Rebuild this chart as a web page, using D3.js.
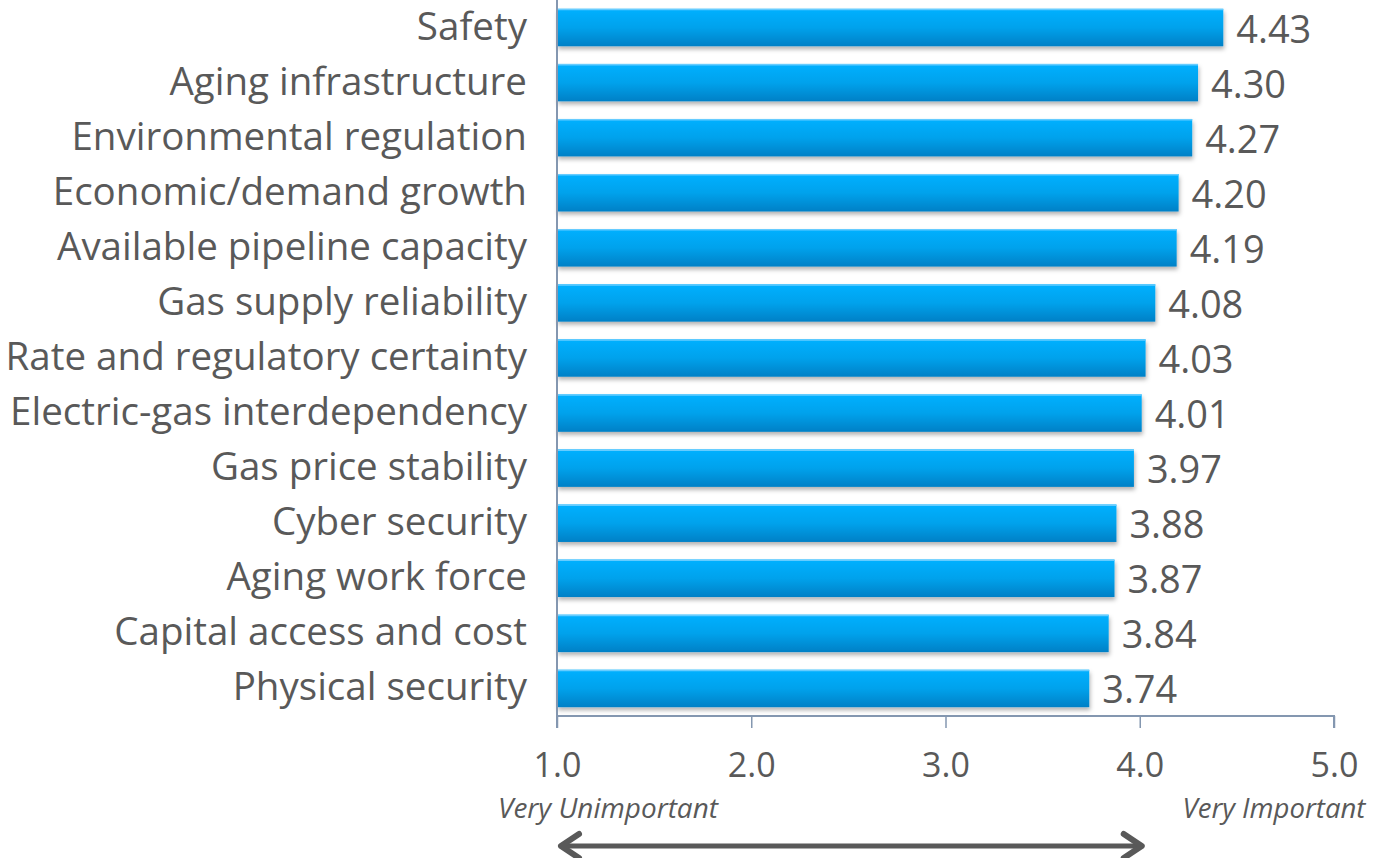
<!DOCTYPE html>
<html><head><meta charset="utf-8">
<script src="https://cdn.jsdelivr.net/npm/d3@7"></script>
<style>body{margin:0;background:#fff}svg{display:block}</style>
</head><body>
<svg id="c" width="1374" height="858"></svg>
<script>
const categories = ["Safety","Aging infrastructure","Environmental regulation","Economic/demand growth","Available pipeline capacity","Gas supply reliability","Rate and regulatory certainty","Electric-gas interdependency","Gas price stability","Cyber security","Aging work force","Capital access and cost","Physical security"];
const values = [4.43,4.30,4.27,4.20,4.19,4.08,4.03,4.01,3.97,3.88,3.87,3.84,3.74];
const tickValues = [1,2,3,4,5];
const scaleEnds = ["Very Unimportant","Very Important"];

const svg = d3.select("#c");
const font = "'Open Sans', sans-serif";
const txt = "#595959";
const x = d3.scaleLinear().domain([1,5]).range([557,1334]);
const y = d3.scaleBand().domain(categories).range([0,716]).paddingInner(0.32).paddingOuter(0.16);

function fit(sel, target){
  const w = sel.node().getComputedTextLength();
  const fs = parseFloat(sel.attr("font-size"));
  return fs*target/w;
}

const defs = svg.append("defs");
const g = defs.append("linearGradient").attr("id","bg").attr("x1",0).attr("x2",0).attr("y1",0).attr("y2",1);
g.append("stop").attr("offset","0").attr("stop-color","#00b0ff");
g.append("stop").attr("offset","0.5").attr("stop-color","#00a2ec");
g.append("stop").attr("offset","1").attr("stop-color","#0080c6");
const f = defs.append("filter").attr("id","sh").attr("x","-5%").attr("y","-20%").attr("width","110%").attr("height","160%");
f.append("feDropShadow").attr("dx",1).attr("dy",3).attr("stdDeviation",2).attr("flood-color","#000").attr("flood-opacity",0.3);

svg.append("g").selectAll("rect").data(values).join("rect")
  .attr("x", x(1)).attr("y",(d,i)=>y(categories[i]))
  .attr("width", d=>x(d)-x(1)).attr("height", y.bandwidth())
  .attr("fill","url(#bg)").attr("filter","url(#sh)");
svg.append("g").selectAll("line").data(values).join("line")
  .attr("x1",x(1)).attr("x2",d=>x(d))
  .attr("y1",(d,i)=>y(categories[i])+0.75).attr("y2",(d,i)=>y(categories[i])+0.75)
  .attr("stroke","#66ccff").attr("stroke-width",1.5);

const vl = svg.append("g").selectAll("text").data(values).join("text")
  .attr("x", d=>x(d)+13).attr("y",(d,i)=>y(categories[i])+y.bandwidth()/2+15)
  .attr("font-family",font).attr("font-size",38).attr("fill",txt)
  .text(d=>d.toFixed(2));
vl.attr("font-size", fit(d3.select(vl.nodes()[0]), 75));

const cl = svg.append("g").selectAll("text").data(categories).join("text")
  .attr("x",527).attr("y",d=>y(d)+y.bandwidth()/2+12)
  .attr("text-anchor","end").attr("font-family",font).attr("font-size",32).attr("fill",txt)
  .text(d=>d);
cl.attr("font-size", fit(d3.select(cl.nodes()[7]), 517));

const axisCol = "#8497b0";
svg.append("line").attr("x1",x(1)).attr("x2",x(1)).attr("y1",0).attr("y2",716).attr("stroke",axisCol).attr("stroke-width",2);
const xa = svg.append("g").attr("transform","translate(0,716)")
  .call(d3.axisBottom(x).tickValues(tickValues).tickSize(12).tickFormat(d3.format(".1f")));
xa.select(".domain").attr("stroke",axisCol).attr("stroke-width",2).attr("d",`M${x(1)},12V0H${x(5)}V12`);
xa.selectAll(".tick line").attr("stroke",axisCol).attr("stroke-width",1.5);
xa.selectAll(".tick text").attr("font-family",font).attr("font-size",34).attr("fill",txt).attr("y",37).attr("dy","0.71em");

const e1 = svg.append("text").attr("x",608).attr("y",818).attr("text-anchor","middle")
  .attr("font-family",font).attr("font-style","italic").attr("font-size",24).attr("fill",txt).text(scaleEnds[0]);
e1.attr("font-size", fit(e1, 220));
const e2 = svg.append("text").attr("x",1274).attr("y",818).attr("text-anchor","middle")
  .attr("font-family",font).attr("font-style","italic").attr("font-size",24).attr("fill",txt).text(scaleEnds[1]);
e2.attr("font-size", fit(e2, 183));

const ay = 846, ax1 = x(1)+2, ax2 = x(4)+4;
svg.append("line").attr("x1",ax1+4).attr("x2",ax2-4).attr("y1",ay).attr("y2",ay).attr("stroke",txt).attr("stroke-width",5);
svg.append("path").attr("d",`M${ax1+20},${ay-12}L${ax1+2},${ay}L${ax1+20},${ay+12}`).attr("fill","none").attr("stroke",txt).attr("stroke-width",6).attr("stroke-linejoin","round").attr("stroke-linecap","round");
svg.append("path").attr("d",`M${ax2-20},${ay-12}L${ax2-2},${ay}L${ax2-20},${ay+12}`).attr("fill","none").attr("stroke",txt).attr("stroke-width",6).attr("stroke-linejoin","round").attr("stroke-linecap","round");
</script>
</body></html>
